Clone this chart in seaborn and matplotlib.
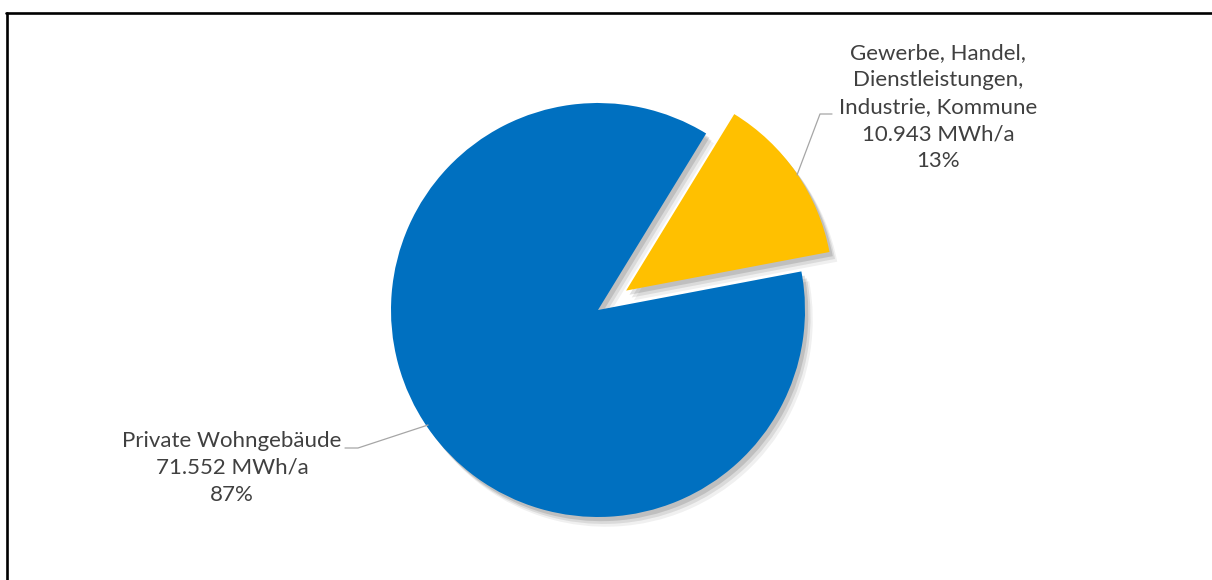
import matplotlib
matplotlib.use("Agg")
import matplotlib.pyplot as plt
import matplotlib.patches as mpatches
from matplotlib.lines import Line2D
import seaborn as sns

# Energy demand by sector (MWh per year)
sectors = ["Gewerbe, Handel,\nDienstleistungen,\nIndustrie, Kommune", "Private Wohngebäude"]
demand_mwh = [10943, 71552]
colors = ["#FFC000", "#0070C0"]
explode_frac = [0.165, 0.0]

sns.set_theme(style="white")
plt.rcParams["font.family"] = ["Lato", "DejaVu Sans"]

W, H = 1212, 580
fig = plt.figure(figsize=(W / 100, H / 100), dpi=100)
ax = fig.add_axes([0, 0, 1, 1])

cx, cy, r = 598, H - 310, 207
wedges, _ = ax.pie(
    demand_mwh,
    colors=colors,
    explode=[e * r for e in explode_frac],
    startangle=58.5,
    counterclock=False,
    center=(cx, cy),
    radius=r,
    wedgeprops=dict(linewidth=0),
)

# soft drop shadow under each wedge
for w in wedges:
    w.set_zorder(5)
    for k, a in zip([7, 5, 3], [0.06, 0.09, 0.12]):
        sh = mpatches.Shadow(w, k * 0.8, -k, shade=0.0, alpha=a, zorder=2)
        sh.set_facecolor("black")
        ax.add_patch(sh)

ax.set_xlim(0, W)
ax.set_ylim(0, H)
ax.set_aspect("equal")
ax.axis("off")

total = sum(demand_mwh)
txt_color = "#404040"
line_color = "#A6A6A6"


def label(name, v):
    pct = round(v / total * 100)
    return name + "\n" + f"{v:,}".replace(",", ".") + " MWh/a\n" + f"{pct}%"


# data labels with leader lines
ax.text(938, H - 107, label(sectors[0], demand_mwh[0]), ha="center", va="center",
        multialignment="center", fontsize=16, color=txt_color, linespacing=1.45)
ax.plot([797, 820, 832], [H - 175, H - 114, H - 114], color=line_color, lw=0.9, zorder=6)

ax.text(232, H - 468, label(sectors[1], demand_mwh[1]), ha="center", va="center",
        multialignment="center", fontsize=16, color=txt_color, linespacing=1.45)
ax.plot([345, 358, 428], [H - 448, H - 448, H - 425], color=line_color, lw=0.9, zorder=6)

# chart frame (top and left edges)
fig.add_artist(Line2D([6 / W, 1], [1 - 13 / H, 1 - 13 / H], color="black", lw=1.9,
                      transform=fig.transFigure))
fig.add_artist(Line2D([7 / W, 7 / W], [1 - 13 / H, 0], color="black", lw=1.9,
                      transform=fig.transFigure))

fig.savefig("out.png", dpi=100, facecolor="white")
